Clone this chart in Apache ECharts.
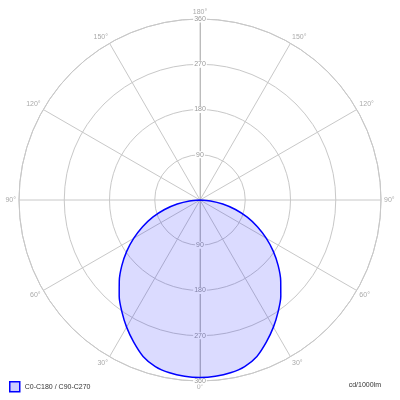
<!DOCTYPE html>
<html><head><meta charset="utf-8">
<script src="https://cdn.jsdelivr.net/npm/echarts@6/dist/echarts.min.js"></script>
<style>html,body{margin:0;padding:0;background:#fff}#c{width:400px;height:400px}</style>
</head><body><div id="c"></div>
<script>
// gamma angles (deg from nadir) and luminous intensity (cd/1000lm), same for C0-C180 and C90-C270
const gammaAngles = [0, 5, 10, 15, 20, 25, 30, 35, 40, 45, 50, 55, 60, 65, 70, 75, 80, 85, 90];
const intensityC0C180 = [353, 352, 349, 343, 331, 312, 292, 271, 250, 227, 203, 178, 152, 126, 100, 73, 46, 21, 0];
const radiusTicks = [0, 90, 180, 270, 360];
const angleTickStep = 30;
const seriesName = 'C0-C180 / C90-C270';
const unitLabel = 'cd/1000lm';

const FONT = 'Liberation Sans, Arial, sans-serif';
const GRID = '#c8c8c8';

// mirror the half curve to both sides of the nadir
const curve = [];
for (let i = gammaAngles.length - 1; i > 0; i--) curve.push([intensityC0C180[i], 360 - gammaAngles[i]]);
for (let i = 0; i < gammaAngles.length; i++) curve.push([intensityC0C180[i], gammaAngles[i]]);

const rMax = radiusTicks[radiusTicks.length - 1];
const rStep = radiusTicks[1] - radiusTicks[0];

const radiusLabel = {
  showMinLabel: false, margin: 0, align: 'center', verticalAlign: 'middle',
  color: '#999', fontSize: 7, fontFamily: FONT, backgroundColor: '#fff', padding: [0, 1]
};

const chart = echarts.init(document.getElementById('c'));
chart.setOption({
  animation: false,
  backgroundColor: '#fff',
  title: {
    text: unitLabel, right: 19, top: 382, padding: 0,
    textStyle: { fontSize: 7, fontWeight: 'normal', color: '#333', fontFamily: FONT }
  },
  legend: {
    left: 9, top: 381, padding: 0, itemWidth: 10, itemHeight: 10, icon: 'rect',
    textStyle: { fontSize: 7, color: '#333', fontFamily: FONT },
    data: [{ name: seriesName, itemStyle: { color: 'rgba(0,0,255,0.2)', borderColor: '#0000ff', borderWidth: 1.5 } }]
  },
  polar: [
    { center: [200, 200], radius: 181 },
    { center: [200, 200], radius: 181 }
  ],
  angleAxis: [
    {
      polarIndex: 0, type: 'value', min: 0, max: 360, interval: angleTickStep,
      startAngle: -90, clockwise: true,
      axisLine: { show: true, lineStyle: { color: GRID, width: 1 } },
      axisTick: { show: false },
      axisLabel: {
        color: '#aaa', fontSize: 7, fontFamily: FONT, margin: 3,
        formatter: v => (v >= 360 ? '' : (v <= 180 ? v : 360 - v) + '°')
      },
      splitLine: { show: true, lineStyle: { color: GRID, width: 1 } }
    },
    {
      polarIndex: 1, type: 'value', min: 0, max: 360, interval: angleTickStep,
      startAngle: 90, show: false
    }
  ],
  radiusAxis: [
    {
      polarIndex: 0, type: 'value', min: 0, max: rMax, interval: rStep,
      axisLine: { show: true, lineStyle: { color: '#bbb', width: 1 } },
      axisTick: { show: false },
      axisLabel: radiusLabel,
      splitLine: { show: true, lineStyle: { color: GRID, width: 1 } }
    },
    {
      polarIndex: 1, type: 'value', min: 0, max: rMax, interval: rStep,
      axisLine: { show: true, lineStyle: { color: '#bbb', width: 1 } },
      axisTick: { show: false },
      axisLabel: radiusLabel,
      splitLine: { show: false }
    }
  ],
  series: [{
    name: seriesName, type: 'line', coordinateSystem: 'polar', polarIndex: 0,
    data: curve, symbol: 'none', smooth: 0.3, z: 3,
    lineStyle: { color: '#0000ff', width: 1.5 },
    itemStyle: { color: '#0000ff' },
    areaStyle: { color: 'rgba(0,0,255,0.2)' }
  }]
});
</script>
</body></html>
